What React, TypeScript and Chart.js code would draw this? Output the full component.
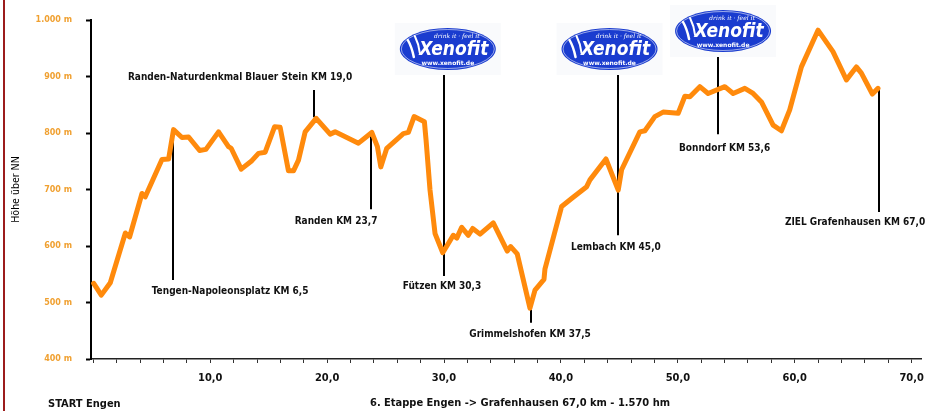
import { useEffect, useRef } from "react";
import { Chart, registerables } from "chart.js";

Chart.register(...registerables);

// ---- data ----
const distanceKm = [0.03, 0.68, 1.45, 2.74, 3.1, 4.16, 4.44, 5.87, 6.44, 6.86, 7.58, 8.15, 9.09, 9.63, 10.71, 11.56, 11.79, 12.65, 13.56, 14.13, 14.7, 15.5, 15.98, 16.69, 17.12, 17.55, 18.12, 19.06, 20.26, 20.68, 22.68, 23.82, 24.3, 24.59, 25.1, 26.52, 26.95, 27.44, 28.32, 28.46, 28.8, 29.23, 29.89, 30.79, 31.09, 31.51, 32.08, 32.45, 33.08, 34.21, 35.41, 35.7, 36.26, 37.35, 37.78, 38.55, 38.63, 40.06, 40.91, 42.2, 42.48, 43.85, 44.9, 45.19, 46.75, 47.18, 48.03, 48.74, 50.03, 50.6, 51.03, 51.88, 52.59, 54.02, 54.73, 55.73, 56.44, 57.15, 58.15, 58.86, 59.57, 60.57, 61.99, 63.27, 64.42, 65.27, 65.7, 66.64, 67.12];
const elevationM = [534, 513, 535, 623, 616, 693, 687, 753, 754, 806, 792, 793, 769, 771, 802, 776, 773, 736, 751, 764, 766, 811, 810, 733, 733, 752, 802, 826, 798, 802, 782, 801, 776, 740, 773, 799, 801, 829, 820, 788, 699, 622, 588, 619, 614, 633, 619, 631, 621, 641, 591, 599, 586, 490, 522, 541, 559, 670, 684, 705, 717, 754, 699, 735, 802, 804, 829, 837, 835, 865, 864, 882, 870, 882, 870, 879, 870, 855, 814, 804, 841, 917, 982, 944, 894, 917, 906, 869, 879];

const xTickValues = [0, 2, 4, 6, 8, 10, 12, 14, 16, 18, 20, 22, 24, 26, 28, 30, 32, 34, 36, 38, 40, 42, 44, 46, 48, 50, 52, 54, 56, 58, 60, 62, 64, 66, 68, 70];
const xLabelledTicks = [10, 20, 30, 40, 50, 60, 70];
const yTickValues = [400, 500, 600, 700, 800, 900, 1000];

const markerNames = [
  "Tengen-Napoleonsplatz KM 6,5",
  "Randen-Naturdenkmal Blauer Stein KM 19,0",
  "Randen KM 23,7",
  "Fützen KM 30,3",
  "Grimmelshofen KM 37,5",
  "Lembach KM 45,0",
  "Bonndorf KM 53,6",
  "ZIEL Grafenhausen KM 67,0",
];
const markerKm = [6.84, 18.91, 23.76, 29.98, 37.44, 44.84, 53.44, 67.2];

const yAxisTitle = "Höhe über NN";
const startText = "START Engen";
const stageText = "6. Etappe Engen -> Grafenhausen 67,0 km - 1.570 hm";
const logoTitle = "Xenofit";
const logoSlogan = "drink it · feel it";
const logoUrl = "www.xenofit.de";

// ---- layout (positions in data units / pixels) ----
const markerLayout = {
  lineTop: [806, 876, 800, 908, 487, 911, 938, 880],
  lineBottom: [540, 828, 665, 547, 464, 619, 798, 660],
  labelKm: [11.7, 12.55, 20.76, 29.83, 37.36, 44.7, 54.0, 65.16],
  labelM: [520, 899, 644, 529, 444, 598, 773, 642],
  logoFor: [3, 5, 6],
  logoDx: [4, -8, 5],
  logoCy: [49, 49, 31],
};

const ORANGE = "#ff8a0c";
const LABEL_FONT = "bold 10px 'DejaVu Sans Condensed', 'DejaVu Sans', sans-serif";

function drawLogo(ctx: CanvasRenderingContext2D, cx: number, cy: number) {
  const rx = 48;
  const ry = 21;
  ctx.save();
  ctx.fillStyle = "#f9fafc";
  ctx.fillRect(cx - rx - 5, cy - ry - 5, rx * 2 + 10, ry * 2 + 10);
  ctx.beginPath();
  ctx.ellipse(cx, cy, rx, ry, 0, 0, Math.PI * 2);
  ctx.fillStyle = "#1a3ccf";
  ctx.fill();
  ctx.beginPath();
  ctx.ellipse(cx, cy, rx - 1.5, ry - 1.5, 0, 0, Math.PI * 2);
  ctx.strokeStyle = "rgba(255,255,255,0.7)";
  ctx.lineWidth = 0.8;
  ctx.stroke();
  // swooshes
  ctx.strokeStyle = "#ffffff";
  ctx.lineCap = "round";
  ctx.lineWidth = 2.5;
  ctx.beginPath();
  ctx.moveTo(cx - 40, cy - 9);
  ctx.quadraticCurveTo(cx - 36, cy - 2, cx - 34, cy + 8);
  ctx.stroke();
  ctx.lineWidth = 2;
  ctx.beginPath();
  ctx.moveTo(cx - 33, cy - 13);
  ctx.quadraticCurveTo(cx - 29, cy - 5, cx - 28, cy + 4);
  ctx.stroke();
  ctx.fillStyle = "#ffffff";
  ctx.textAlign = "center";
  ctx.textBaseline = "middle";
  ctx.font = "italic bold 19px 'DejaVu Sans Condensed', 'DejaVu Sans', sans-serif";
  ctx.fillText(logoTitle, cx + 6, cy + 1);
  ctx.font = "italic 6px 'DejaVu Serif', serif";
  ctx.fillText(logoSlogan, cx + 9, cy - 13);
  ctx.font = "bold 6px 'DejaVu Sans', sans-serif";
  ctx.fillText(logoUrl, cx, cy + 14);
  ctx.restore();
}

const profilePlugin = {
  id: "profileOverlay",
  beforeDraw(chart: any) {
    const ctx = chart.ctx as CanvasRenderingContext2D;
    ctx.save();
    ctx.fillStyle = "#ffffff";
    ctx.fillRect(0, 0, chart.width, chart.height);
    ctx.fillStyle = "#9c1c1c";
    ctx.fillRect(3, 0, 2, chart.height);
    ctx.restore();
  },
  beforeDatasetsDraw(chart: any) {
    const ctx = chart.ctx as CanvasRenderingContext2D;
    const xs = chart.scales.x;
    const ys = chart.scales.y;
    ctx.save();
    ctx.strokeStyle = "#000000";
    ctx.lineWidth = 2;
    markerKm.forEach((km, i) => {
      const x = Math.round(xs.getPixelForValue(km));
      ctx.beginPath();
      ctx.moveTo(x, ys.getPixelForValue(markerLayout.lineTop[i]));
      ctx.lineTo(x, ys.getPixelForValue(markerLayout.lineBottom[i]));
      ctx.stroke();
    });
    ctx.restore();
  },
  afterDatasetsDraw(chart: any) {
    const ctx = chart.ctx as CanvasRenderingContext2D;
    const xs = chart.scales.x;
    const ys = chart.scales.y;
    ctx.save();
    ctx.fillStyle = "#111111";
    ctx.font = LABEL_FONT;
    ctx.textAlign = "center";
    ctx.textBaseline = "middle";
    markerNames.forEach((name, i) => {
      ctx.fillText(
        name,
        xs.getPixelForValue(markerLayout.labelKm[i]),
        ys.getPixelForValue(markerLayout.labelM[i])
      );
    });
    markerLayout.logoFor.forEach((mi, j) => {
      const x = xs.getPixelForValue(markerKm[mi]) + markerLayout.logoDx[j];
      drawLogo(ctx, x, markerLayout.logoCy[j]);
    });
    ctx.fillStyle = "#111111";
    ctx.textBaseline = "middle";
    ctx.font = "bold 11px 'DejaVu Sans Condensed', 'DejaVu Sans', sans-serif";
    ctx.textAlign = "left";
    ctx.fillText(startText, 48, 404);
    ctx.font = "bold 11px 'DejaVu Sans Condensed', 'DejaVu Sans', sans-serif";
    ctx.textAlign = "center";
    ctx.fillText(stageText, 520, 403);
    ctx.restore();
  },
};

export default function App() {
  const canvasRef = useRef<HTMLCanvasElement | null>(null);

  useEffect(() => {
    if (!canvasRef.current) return;
    const points = distanceKm.map((km, i) => ({ x: km, y: elevationM[i] }));
    const chart = new Chart(canvasRef.current, {
      type: "line",
      data: {
        datasets: [
          {
            data: points,
            borderColor: ORANGE,
            borderWidth: 5,
            pointRadius: 0,
            tension: 0,
            borderJoinStyle: "round",
            borderCapStyle: "round",
            fill: false,
          },
        ],
      },
      plugins: [profilePlugin],
      options: {
        animation: false,
        responsive: false,
        events: [],
        layout: { padding: { left: 0, right: 14, top: 20, bottom: 0 } },
        plugins: { legend: { display: false }, tooltip: { enabled: false } },
        scales: {
          x: {
            type: "linear",
            min: -0.2,
            max: 70.8,
            afterBuildTicks: (scale: any) => {
              scale.ticks = xTickValues.map((v) => ({ value: v }));
            },
            afterFit: (scale: any) => {
              scale.height = 52;
            },
            border: { display: true, color: "#222222", width: 1.5 },
            grid: {
              display: true,
              drawOnChartArea: false,
              drawTicks: true,
              tickLength: 4,
              tickWidth: 1,
              tickColor: "#333333",
            },
            ticks: {
              autoSkip: false,
              maxRotation: 0,
              padding: 9,
              color: "#111111",
              font: { family: "'DejaVu Sans Condensed', 'DejaVu Sans', sans-serif", size: 11, weight: "bold" },
              callback: (v: any) =>
                xLabelledTicks.includes(Number(v)) ? Number(v).toFixed(1).replace(".", ",") : "",
            },
          },
          y: {
            type: "linear",
            min: 400,
            max: 1000,
            afterBuildTicks: (scale: any) => {
              scale.ticks = yTickValues.map((v) => ({ value: v }));
            },
            afterFit: (scale: any) => {
              scale.width = 91;
            },
            border: { display: true, color: "#000000", width: 2 },
            grid: {
              display: true,
              drawOnChartArea: false,
              drawTicks: true,
              tickLength: 5,
              tickWidth: 2,
              tickColor: "#000000",
            },
            title: {
              display: true,
              text: yAxisTitle,
              color: "#000000",
              padding: { top: 10, bottom: 0 },
              font: { family: "'DejaVu Sans Condensed', 'DejaVu Sans', sans-serif", size: 10.5 },
            },
            ticks: {
              padding: 14,
              color: "#f0a030",
              font: { family: "'DejaVu Sans', sans-serif", size: 8, weight: "bold" },
              callback: (v: any) =>
                Number(v) >= 1000
                  ? Number(v).toLocaleString("de-DE") + " m"
                  : String(v) + " m",
            },
          },
        },
      },
    });
    return () => chart.destroy();
  }, []);

  return (
    <div style={{ position: "absolute", left: 0, top: 0, width: 935, height: 411, background: "#fff" }}>
      <canvas ref={canvasRef} width={935} height={411} style={{ display: "block" }} />
    </div>
  );
}
